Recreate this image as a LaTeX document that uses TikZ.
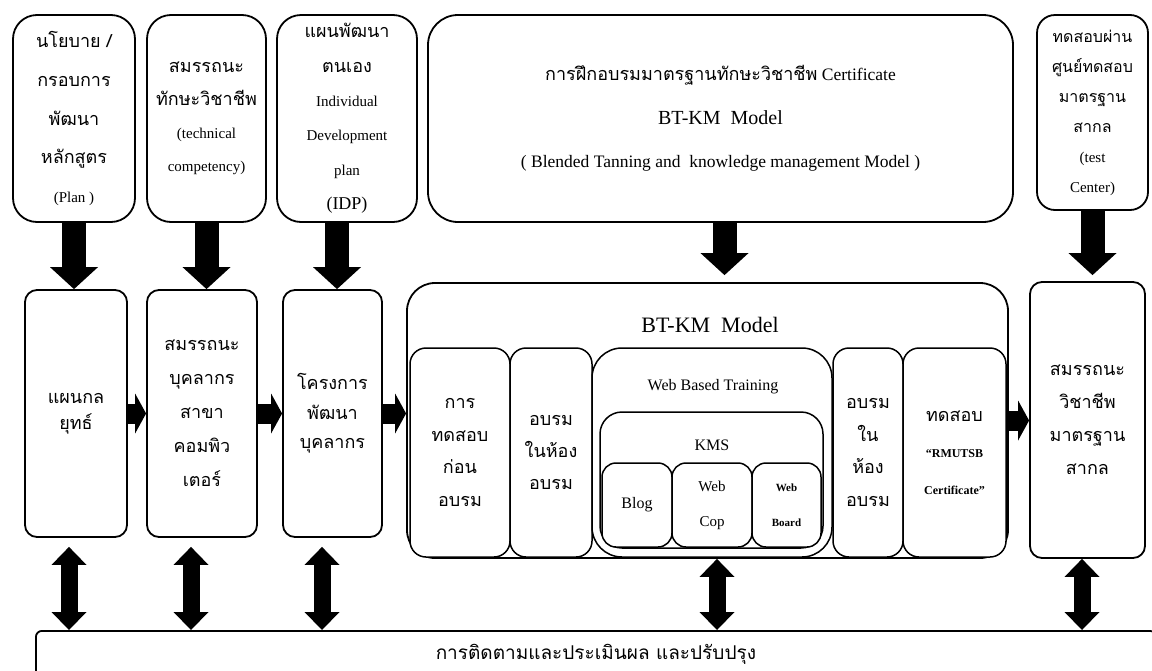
\documentclass[tikz,border=0pt]{standalone}
\usepackage{fontspec}
\setmainfont{Liberation Serif}
\newfontfamily\thai[Script=Thai]{Loma}
\usetikzlibrary{arrows.meta,calc}
\newcommand\tht[1]{{\thai\mdseries\fontsize{18}{1}\selectfont #1}}
\newcommand\thts[1]{{\thai\mdseries\fontsize{16}{1}\selectfont #1}}
\tikzset{
  bx/.style={draw=black, line width=1.8pt, fill=white, align=center, inner sep=1pt, rounded corners=#1},
  sbx/.style={draw=black, line width=1.5pt, fill=white, align=center, inner sep=1pt, rounded corners=#1},
  txt/.style={inner sep=0pt, align=center},
  darr/.style={line width=24pt, -{Triangle[width=48pt,length=22pt,line width=0pt]}},
  harr/.style={line width=20pt, -{Triangle[width=40pt,length=11pt,line width=0pt]}},
  varr/.style={line width=17pt, {Triangle[width=35pt,length=18pt,line width=0pt]}-{Triangle[width=35pt,length=18pt,line width=0pt]}}
}
\begin{document}
\begin{tikzpicture}[x=1pt,y=-1pt]
\useasboundingbox (0,0) rectangle (1152,670);
\clip (0,0) rectangle (1152,670);
\fill[white] (0,0) rectangle (1152,670);

% top row
\node[bx=24pt, minimum width=122pt, minimum height=207pt, font=\fontsize{15}{38.75}\selectfont] (t1) at (74,118.5)
  {\tht{นโยบาย /}\\\tht{กรอบการ}\\\tht{พัฒนา}\\\tht{หลักสูตร}\\(Plan )};
\node[bx=24pt, minimum width=119pt, minimum height=207pt, font=\fontsize{15}{33}\selectfont] (t2) at (206.5,118.5)
  {\tht{สมรรถนะ}\\\tht{ทักษะวิชาชีพ}\\(technical\\competency)};
\node[bx=24pt, minimum width=140pt, minimum height=207pt, font=\fontsize{15}{34.4}\selectfont] (t3) at (347,118.5)
  {\tht{แผนพัฒนา}\\\tht{ตนเอง}\\Individual\\Development\\plan\\{\fontsize{18}{1}\selectfont (IDP)}};
\node[bx=30pt, minimum width=585pt, minimum height=207pt, font=\fontsize{17.5}{43.5}\selectfont] (t4) at (720.5,118.5)
  {\tht{การฝึกอบรมมาตรฐานทักษะวิชาชีพ} Certificate\\{\fontsize{20}{1}\selectfont BT-KM\ \ Model}\\( Blended Tanning and\ \ knowledge management Model )};
\node[bx=18pt, minimum width=111pt, minimum height=195pt, font=\fontsize{15}{30}\selectfont] (t5) at (1092.5,112.5)
  {\thts{ทดสอบผ่าน}\\\thts{ศูนย์ทดสอบ}\\\thts{มาตรฐาน}\\\thts{สากล}\\(test\\Center)};

% middle row
\node[bx=12pt, minimum width=102pt, minimum height=247pt, font=\fontsize{18}{26}\selectfont] (m1) at (76,413.5)
  {\tht{แผนกล}\\\tht{ยุทธ์}};
\node[bx=12pt, minimum width=110pt, minimum height=247pt, font=\fontsize{18}{34}\selectfont] (m2) at (202,413.5)
  {\tht{สมรรถนะ}\\\tht{บุคลากร}\\\tht{สาขา}\\\tht{คอมพิว}\\\tht{เตอร์}};
\node[bx=12pt, minimum width=99pt, minimum height=247pt, font=\fontsize{18}{29.5}\selectfont] (m3) at (332.5,413.5)
  {\tht{โครงการ}\\\tht{พัฒนา}\\\tht{บุคลากร}};
\node[bx=28pt, minimum width=601pt, minimum height=275pt] (bt) at (707.5,420.5) {};
\node[txt, font=\fontsize{22}{26}\selectfont] (btt) at (710,325) {BT-KM\ \ Model};
\node[sbx=16pt, minimum width=100pt, minimum height=209pt, font=\fontsize{18}{32.7}\selectfont] (s1) at (460,452.5)
  {\tht{การ}\\\tht{ทดสอบ}\\\tht{ก่อน}\\\tht{อบรม}};
\node[sbx=16pt, minimum width=82pt, minimum height=209pt, font=\fontsize{18}{32}\selectfont] (s2) at (551,452.5)
  {\tht{อบรม}\\\tht{ในห้อง}\\\tht{อบรม}};
\node[sbx=30pt, minimum width=240pt, minimum height=209pt] (s3) at (712,452.5) {};
\node[txt, font=\fontsize{16}{20}\selectfont] (s3t) at (713,387) {Web Based Training};
\node[sbx=22pt, minimum width=223pt, minimum height=136pt] (kms) at (711.5,480) {};
\node[txt, font=\fontsize{16}{20}\selectfont] (kmst) at (712,445) {KMS};
\node[sbx=14pt, minimum width=70pt, minimum height=84pt, font=\fontsize{16}{20}\selectfont] (blog) at (637,505) {Blog};
\node[sbx=14pt, minimum width=80pt, minimum height=84pt, font=\fontsize{15}{35}\selectfont] (wcop) at (712,505) {Web\\Cop};
\node[sbx=14pt, minimum width=69pt, minimum height=84pt, font=\fontsize{11}{35}\selectfont\bfseries] (wboard) at (786.5,505) {Web\\Board};
\node[sbx=16pt, minimum width=70pt, minimum height=209pt, font=\fontsize{18}{32.7}\selectfont] (s4) at (868,452.5)
  {\tht{อบรม}\\\tht{ใน}\\\tht{ห้อง}\\\tht{อบรม}};
\node[sbx=16pt, minimum width=103pt, minimum height=209pt, font=\fontsize{12}{36.5}\selectfont\bfseries] (s5) at (954.5,452.5)
  {\tht{ทดสอบ}\\“RMUTSB\\Certificate”};
\node[bx=12pt, minimum width=115pt, minimum height=276pt, font=\fontsize{18}{33}\selectfont] (m5) at (1087.5,420)
  {\tht{สมรรถนะ}\\\tht{วิชาชีพ}\\\tht{มาตรฐาน}\\\tht{สากล}};

% bottom
\node[bx=6pt, anchor=north west, minimum width=1120pt, minimum height=46pt, font=\fontsize{19}{20}\selectfont] (bot) at (35,630)
  {{\thai\fontsize{19}{20}\selectfont การติดตามและประเมินผล และปรับปรุง}};

% arrows top -> middle
\draw[darr] (t1.south) -- (t1.south |- m1.north);
\draw[darr] (t2.south) -- (t2.south |- m2.north);
\draw[darr] ([xshift=-10pt]t3.south) -- ([xshift=-10pt]t3.south |- m3.north);
\draw[darr, shorten >=7pt] ([xshift=4pt]t4.south) -- ([xshift=4pt]t4.south |- bt.north);
\draw[darr, shorten >=6pt] (t5.south) -- (t5.south |- m5.north);

% horizontal arrows
\draw[harr] (m1.east) -- (m1.east -| m2.west);
\draw[harr] (m2.east) -- (m2.east -| m3.west);
\draw[harr] (m3.east) -- (m3.east -| bt.west);
\draw[harr] (bt.east) -- (bt.east -| m5.west);

% double arrows to bottom
\draw[varr, shorten <=9pt] ([xshift=-7pt]m1.south) -- ([xshift=-7pt]m1.south |- bot.north);
\draw[varr, shorten <=9pt] ([xshift=-11pt]m2.south) -- ([xshift=-11pt]m2.south |- bot.north);
\draw[varr, shorten <=9pt] ([xshift=-10.5pt]m3.south) -- ([xshift=-10.5pt]m3.south |- bot.north);
\draw[varr] ([xshift=9.5pt]bt.south) -- ([xshift=9.5pt]bt.south |- bot.north);
\draw[varr] ([xshift=-5.5pt]m5.south) -- ([xshift=-5.5pt]m5.south |- bot.north);
\end{tikzpicture}
\end{document}
